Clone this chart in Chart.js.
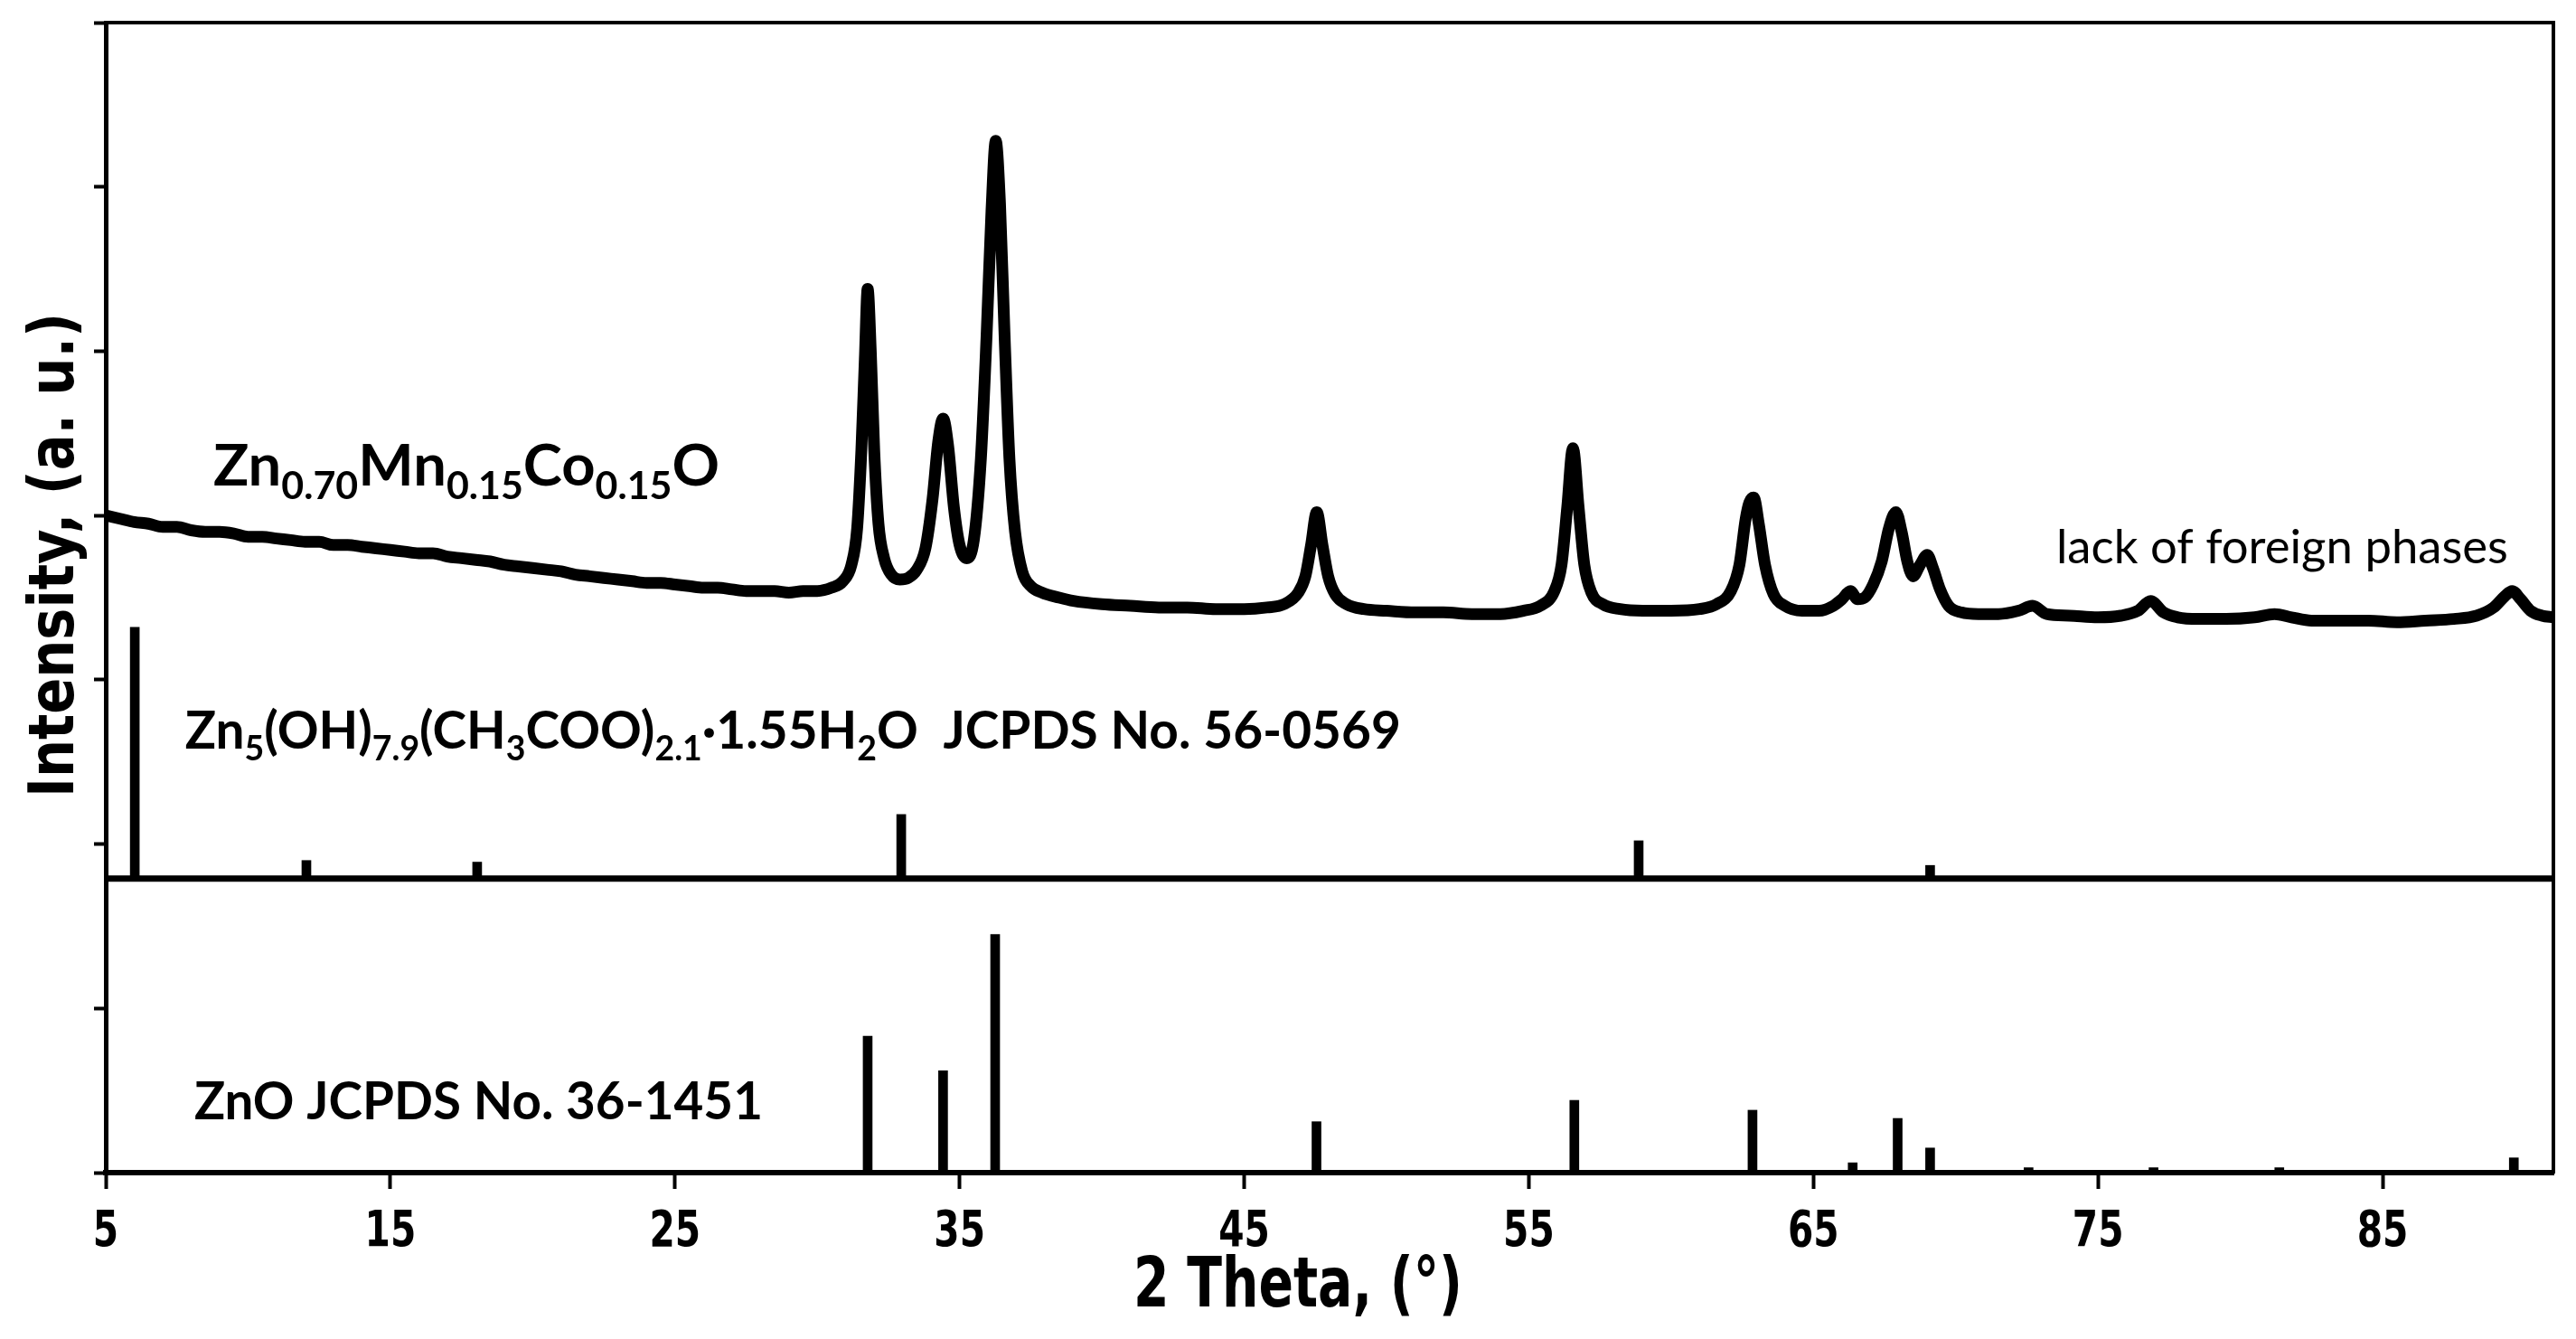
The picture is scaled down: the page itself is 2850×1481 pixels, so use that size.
<!DOCTYPE html>
<html>
<head>
<meta charset="utf-8">
<title>XRD Zn0.70Mn0.15Co0.15O</title>
<script src="https://cdn.jsdelivr.net/npm/chart.js@4.4.1/dist/chart.umd.min.js"></script>
<style>
  html, body { margin: 0; padding: 0; background: #fff; }
  #wrap { width: 2850px; height: 1481px; }
</style>
</head>
<body>
<div id="wrap"><canvas id="xrd" width="2850" height="1481"></canvas></div>
<script>
// axis ticks
const thetaTicks = [5, 15, 25, 35, 45, 55, 65, 75, 85];
const intensityTicks = [0, 1, 2, 3, 4, 5, 6, 7];

const sampleTheta = [
  5.0, 5.5, 6.0, 6.5, 7.0, 7.5, 8.0, 8.5, 9.0, 9.5, 10.0, 10.5, 11.0, 11.5, 12.0, 12.5,
  13.0, 13.5, 14.0, 14.5, 15.0, 15.5, 16.0, 16.5, 17.0, 17.5, 18.0, 18.5, 19.0, 19.5,
  20.0, 20.5, 21.0, 21.5, 22.0, 22.5, 23.0, 23.5, 24.0, 24.5, 25.0, 25.5, 26.0, 26.5,
  27.0, 27.5, 28.0, 28.5, 29.0, 29.5, 30.0, 30.5, 30.9, 31.2, 31.4, 31.55, 31.67, 31.77,
  31.88, 32.0, 32.15, 32.35, 32.6, 32.9, 33.2, 33.5, 33.8, 34.05, 34.25, 34.42, 34.6,
  34.8, 35.0, 35.25, 35.5, 35.75, 35.95, 36.12, 36.27, 36.42, 36.58, 36.75, 36.95, 37.2,
  37.5, 37.9, 38.5, 39.0, 40.0, 41.0, 42.0, 43.0, 44.0, 45.0, 45.8, 46.4, 46.9, 47.15,
  47.35, 47.55, 47.75, 47.95, 48.2, 48.6, 49.2, 50.0, 51.0, 52.0, 53.0, 54.0, 54.8, 55.4,
  55.9, 56.15, 56.35, 56.55, 56.75, 56.95, 57.2, 57.6, 58.2, 59.0, 60.0, 61.0, 61.6, 62.1,
  62.4, 62.62, 62.75, 62.9, 63.08, 63.3, 63.6, 64.0, 64.6, 65.2, 65.7, 66.0, 66.3, 66.55,
  66.8, 67.1, 67.4, 67.65, 67.9, 68.1, 68.3, 68.5, 68.75, 69.0, 69.2, 69.45, 69.75, 70.2,
  70.8, 71.5, 72.2, 72.7, 73.2, 74.0, 75.0, 75.8, 76.4, 76.85, 77.3, 77.8, 78.5, 79.5,
  80.5, 81.2, 81.8, 82.5, 83.5, 84.5, 85.5, 86.5, 87.5, 88.3, 88.9, 89.3, 89.55, 89.85,
  90.2, 90.6, 91.0
];
const sampleIntensity = [
  4.00, 3.98, 3.96, 3.95, 3.93, 3.93, 3.91, 3.90, 3.90, 3.89, 3.87, 3.87, 3.86, 3.85, 3.84, 3.84,
  3.82, 3.82, 3.81, 3.80, 3.79, 3.78, 3.77, 3.77, 3.75, 3.74, 3.73, 3.72, 3.70, 3.69,
  3.68, 3.67, 3.66, 3.64, 3.63, 3.62, 3.61, 3.60, 3.59, 3.59, 3.58, 3.57, 3.56, 3.56,
  3.55, 3.54, 3.54, 3.54, 3.53, 3.54, 3.54, 3.56, 3.60, 3.70, 3.92, 4.40, 4.95, 5.38,
  5.00, 4.40, 3.95, 3.74, 3.64, 3.61, 3.62, 3.67, 3.80, 4.10, 4.45, 4.59, 4.42,
  4.05, 3.82, 3.74, 3.85, 4.35, 5.10, 5.85, 6.28, 5.90, 5.10, 4.35, 3.90, 3.66,
  3.57, 3.53, 3.50, 3.48, 3.46, 3.45, 3.44, 3.44, 3.43, 3.43, 3.44, 3.46, 3.53, 3.63,
  3.82, 4.02, 3.82, 3.63, 3.52, 3.46, 3.43, 3.42, 3.41, 3.41, 3.40, 3.40, 3.42, 3.45,
  3.54, 3.70, 4.05, 4.41, 4.05, 3.70, 3.53, 3.46, 3.43, 3.42, 3.42, 3.43, 3.46, 3.54,
  3.70, 3.98, 4.08, 4.11, 3.95, 3.70, 3.52, 3.45, 3.42, 3.42, 3.45, 3.49, 3.54, 3.49,
  3.50, 3.58, 3.72, 3.92, 4.02, 3.90, 3.72, 3.63, 3.70, 3.76, 3.68, 3.55, 3.45, 3.41,
  3.40, 3.40, 3.42, 3.45, 3.40, 3.39, 3.38, 3.39, 3.42, 3.48, 3.41, 3.38, 3.37, 3.37,
  3.38, 3.40, 3.38, 3.36, 3.36, 3.36, 3.35, 3.36, 3.37, 3.39, 3.44, 3.51, 3.54, 3.49,
  3.42, 3.39, 3.38
];

// ZnO reference lines (JCPDS No. 36-1451), lower panel, base 0
const znoTheta = [31.77, 34.42, 36.25, 47.54, 56.6, 62.86, 66.38, 67.96, 69.1, 72.56, 76.95, 81.37, 89.61];
const znoIntensity = [0.83, 0.62, 1.45, 0.31, 0.44, 0.38, 0.06, 0.33, 0.15, 0.03, 0.03, 0.03, 0.09];

// Zn5(OH)7.9(CH3COO)2.1·1.55H2O reference lines (JCPDS No. 56-0569), upper panel
const lhzTheta = [6.02, 12.05, 18.05, 32.95, 58.86, 69.1];
const lhzIntensity = [3.32, 1.90, 1.89, 2.18, 2.02, 1.87];

// level of the line that splits the two reference panels
const panelSplit = 1.79;

// text drawn on top of the chart; "at" is in axis units, px/py in canvas pixels
const figureLabels = [
  { text: 'Zn_{0.70}Mn_{0.15}Co_{0.15}O', at: [8.78, 4.18],
    family: 'Lato', weight: 'bold', size: 64, width: 560 },
  { text: 'Zn_{5}(OH)_{7.9}(CH_{3}COO)_{2.1}·1.55H_{2}O  JCPDS No. 56-0569', at: [7.79, 2.58],
    family: 'Lato', weight: 'bold', size: 58, width: 1345 },
  { text: 'ZnO JCPDS No. 36-1451', at: [8.11, 0.325],
    family: 'Lato', weight: 'bold', size: 58, width: 629 },
  { text: 'lack of foreign phases', at: [73.53, 3.71],
    family: 'Lato', weight: 'normal', size: 52, width: 500 },
  { text: 'Intensity, (a. u.)', px: 81, py: 614, rotate: -Math.PI / 2, align: 'center',
    family: 'DejaVu Sans', weight: 'bold', size: 70, width: 536 },
  { text: '2 Theta, (°)', px: 1436, py: 1445, align: 'center',
    family: 'DejaVu Sans', weight: 'bold', size: 77, width: 364 }
];
const tickFont = { family: 'DejaVu Sans', weight: 'bold', size: 55, squeeze: 0.74, baseline: 1378 };

// draws text with _{sub} parts, optionally squeezed to a given width
function drawRichText(ctx, item) {
  const parts = [];
  const re = /_\{([^}]*)\}/g;
  let last = 0, m;
  while ((m = re.exec(item.text)) !== null) {
    if (m.index > last) parts.push({ t: item.text.slice(last, m.index), sub: false });
    parts.push({ t: m[1], sub: true });
    last = re.lastIndex;
  }
  if (last < item.text.length) parts.push({ t: item.text.slice(last), sub: false });

  const fontFor = sub => `${item.weight || 'normal'} ${sub ? item.size * 0.66 : item.size}px ${item.family}`;
  let total = 0;
  parts.forEach(p => {
    ctx.font = fontFor(p.sub);
    p.w = ctx.measureText(p.t).width;
    total += p.w;
  });
  const sx = item.width ? item.width / total : (item.squeeze || 1);

  ctx.save();
  ctx.translate(item.px, item.py);
  if (item.rotate) ctx.rotate(item.rotate);
  ctx.scale(sx, 1);
  ctx.fillStyle = '#000';
  ctx.textBaseline = 'alphabetic';
  ctx.textAlign = 'left';
  let cx = item.align === 'center' ? -total / 2 : 0;
  parts.forEach(p => {
    ctx.font = fontFor(p.sub);
    ctx.fillText(p.t, cx, p.sub ? item.size * 0.22 : 0);
    cx += p.w;
  });
  ctx.restore();
}

const figureText = {
  id: 'figureText',
  afterDraw(chart) {
    const { ctx, scales } = chart;
    figureLabels.forEach(item => {
      const it = Object.assign({}, item);
      if (item.at) {
        it.px = scales.x.getPixelForValue(item.at[0]);
        it.py = scales.y.getPixelForValue(item.at[1]);
      }
      drawRichText(ctx, it);
    });
    // 2θ tick labels, narrow bold digits as in the original figure
    thetaTicks.forEach(v => {
      drawRichText(ctx, Object.assign({ text: String(v), align: 'center',
        px: scales.x.getPixelForValue(v), py: tickFont.baseline }, tickFont));
    });
  }
};

const ctx = document.getElementById('xrd').getContext('2d');

new Chart(ctx, {
  type: 'line',
  data: {
    datasets: [
      {
        label: 'Zn0.70Mn0.15Co0.15O',
        data: sampleTheta.map((t, i) => ({ x: t, y: sampleIntensity[i] })),
        borderColor: '#000',
        borderWidth: 13,
        borderJoinStyle: 'round',
        borderCapStyle: 'round',
        pointRadius: 0,
        cubicInterpolationMode: 'monotone',
        xAxisID: 'x',
        yAxisID: 'y',
        order: 1
      },
      {
        label: 'split',
        data: [{ x: 5, y: panelSplit }, { x: 91, y: panelSplit }],
        borderColor: '#000',
        borderWidth: 7,
        pointRadius: 0,
        xAxisID: 'x',
        yAxisID: 'y',
        order: 2
      },
      {
        type: 'bar',
        label: 'ZnO JCPDS No. 36-1451',
        data: znoTheta.map((t, i) => ({ x: t, y: [0, znoIntensity[i]] })),
        backgroundColor: '#000',
        barThickness: 10,
        grouped: false,
        xAxisID: 'x',
        yAxisID: 'y',
        order: 3
      },
      {
        type: 'bar',
        label: 'JCPDS No. 56-0569',
        data: lhzTheta.map((t, i) => ({ x: t, y: [panelSplit, lhzIntensity[i]] })),
        backgroundColor: '#000',
        barThickness: 10,
        grouped: false,
        xAxisID: 'x',
        yAxisID: 'y',
        order: 3
      }
    ]
  },
  options: {
    responsive: false,
    animation: false,
    devicePixelRatio: 1,
    layout: { padding: { left: 0, top: 25, right: 25, bottom: 0 } },
    plugins: {
      legend: { display: false },
      tooltip: { enabled: false }
    },
    scales: {
      x: {
        type: 'linear',
        position: 'bottom',
        min: 5,
        max: 91,
        offset: false,
        afterBuildTicks: s => { s.ticks = thetaTicks.map(v => ({ value: v })); },
        afterFit: s => { s.height = 184; },
        ticks: { display: false },
        grid: { offset: false, drawOnChartArea: false, drawTicks: true, tickLength: 18, tickWidth: 4, tickColor: '#000' },
        border: { display: true, color: '#000', width: 6 }
      },
      xTop: {
        type: 'linear',
        position: 'top',
        min: 5,
        max: 91,
        afterFit: s => { s.height = 0; },
        ticks: { display: false },
        grid: { display: false, drawTicks: false },
        border: { display: true, color: '#000', width: 4 }
      },
      y: {
        type: 'linear',
        position: 'left',
        min: 0,
        max: 7,
        afterBuildTicks: s => { s.ticks = intensityTicks.map(v => ({ value: v })); },
        afterFit: s => { s.width = 117; },
        ticks: { display: false },
        grid: { offset: false, drawOnChartArea: false, drawTicks: true, tickLength: 13, tickWidth: 4, tickColor: '#000' },
        border: { display: true, color: '#000', width: 5 }
      },
      yRight: {
        type: 'linear',
        position: 'right',
        min: 0,
        max: 7,
        afterFit: s => { s.width = 0; },
        ticks: { display: false },
        grid: { display: false, drawTicks: false },
        border: { display: true, color: '#000', width: 4 }
      }
    }
  },
  plugins: [figureText]
});
</script>
</body>
</html>
